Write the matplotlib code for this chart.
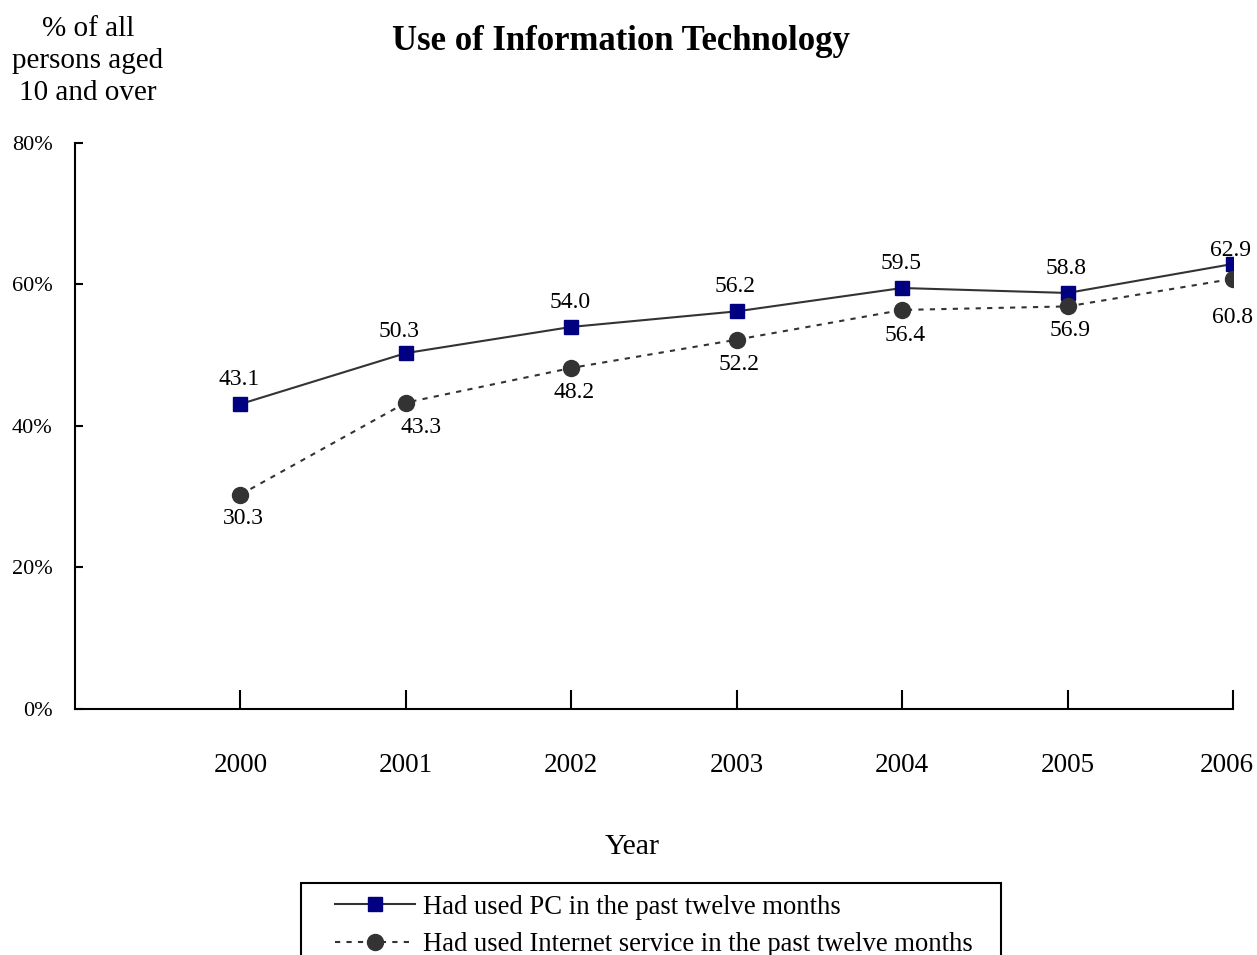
import matplotlib.pyplot as plt
from matplotlib.patches import Rectangle
from matplotlib.ticker import FuncFormatter
from matplotlib.transforms import ScaledTranslation

plt.rcParams['font.family'] = ['Liberation Serif', 'DejaVu Serif']

years = [2000, 2001, 2002, 2003, 2004, 2005, 2006]
pc_use = [43.1, 50.3, 54.0, 56.2, 59.5, 58.8, 62.9]
internet_use = [30.3, 43.3, 48.2, 52.2, 56.4, 56.9, 60.8]
y_ticks = [0, 20, 40, 60, 80]

fig = plt.figure(figsize=(12.57, 9.55), dpi=100)
ax = fig.add_axes([0.0597, 0.2576, 0.9212, 0.5927])

# Lines and markers
ax.plot(years, pc_use, color='#333333', linewidth=1.5, marker='s', markersize=10,
        markerfacecolor='#000080', markeredgecolor='#000080',
        label='Had used PC in the past twelve months', zorder=3)
ax.plot(years, internet_use, color='#333333', linewidth=1.5, linestyle=(0, (2.5, 3)),
        marker='o', markersize=11.5, markerfacecolor='#333333', markeredgecolor='#333333',
        label='Had used Internet service in the past twelve months', zorder=3)

# Data labels (label offsets in points, tweaked where the series get close)
for x, v in zip(years, pc_use):
    dx = {2001: -5, 2006: -2}.get(x, -1)
    dy = {2006: 2, 2001: 8}.get(x, 10)
    ax.annotate(f'{v:.1f}', (x, v), xytext=(dx, dy),
                textcoords='offset points', ha='center', va='bottom', fontsize=17)
for x, v in zip(years, internet_use):
    dx = {2001: 11, 2006: 0}.get(x, 2)
    dy = {2006: -20, 2004: -11}.get(x, -10)
    ax.annotate(f'{v:.1f}', (x, v), xytext=(dx, dy),
                textcoords='offset points', ha='center', va='top', fontsize=17)

# Axes
ax.set_xlim(1999, 2006)
ax.set_ylim(0, 80)
ax.set_xticks(years)
ax.set_yticks(y_ticks)
ax.yaxis.set_major_formatter(FuncFormatter(lambda v, p: f'{v:.0f}%'))
ax.tick_params(axis='x', direction='in', length=14, width=1.5, labelsize=19.5, pad=32)
ax.tick_params(axis='y', direction='in', length=6, width=1.5, labelsize=16, pad=16)
last = ax.get_xticklabels()[-1]
last.set_transform(last.get_transform() + ScaledTranslation(-6 / 100, 0, fig.dpi_scale_trans))

ax.spines['right'].set_visible(False)
ax.spines['top'].set_visible(False)
ax.spines['left'].set_linewidth(1.5)
ax.spines['bottom'].set_linewidth(1.5)

# Titles
fig.text(0.494, 0.957, 'Use of Information Technology', ha='center', va='center',
         fontsize=25, fontweight='bold')
fig.text(0.07, 0.936, '% of all\npersons aged\n10 and over', ha='center', va='center',
         fontsize=21, linespacing=1.3)
fig.text(0.503, 0.113, 'Year', ha='center', va='center', fontsize=21.5)

# Legend (frame drawn separately so it can run off the bottom edge)
leg = fig.legend(loc='upper left', bbox_to_anchor=(0.2665, 0.0632), fontsize=19.2,
                 frameon=False, handlelength=3.0, borderpad=0, borderaxespad=0,
                 labelspacing=0.47, handletextpad=0.3)
fig.patches.append(Rectangle((0.2395, -0.05), 0.5569, 0.1254, transform=fig.transFigure,
                             fill=False, edgecolor='black', linewidth=1.5))

fig.savefig('out.png', dpi=100)
